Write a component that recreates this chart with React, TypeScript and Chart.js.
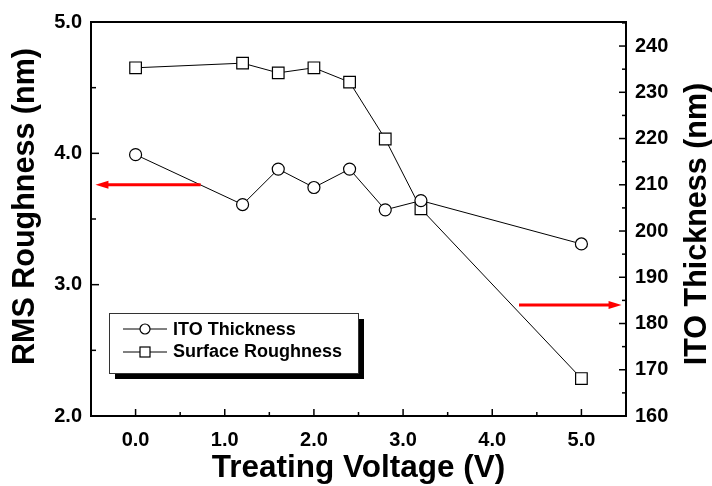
import { useEffect, useRef } from 'react';
import { Chart, registerables } from 'chart.js';

Chart.register(...registerables);

// ---- data ----
const voltage = [0, 1.2, 1.6, 2.0, 2.4, 2.8, 3.2, 5.0];
const itoThickness = [3.99, 3.61, 3.88, 3.74, 3.88, 3.57, 3.64, 3.31];
const surfaceRoughness = [235.3, 236.3, 234.2, 235.3, 232.2, 219.9, 204.8, 168.1];

const xTicks = [0, 1, 2, 3, 4, 5];
const xMinorTicks = [0.5, 1.5, 2.5, 3.5, 4.5];
const leftTicks = [2, 3, 4, 5];
const leftMinorTicks = [2.5, 3.5, 4.5];
const rightTicks = [160, 170, 180, 190, 200, 210, 220, 230, 240];
const rightMinorTicks = [165, 175, 185, 195, 205, 215, 225, 235, 245];

const seriesLabels = ['ITO Thickness', 'Surface Roughness'];
const xTitle = 'Treating Voltage (V)';
const leftTitle = 'RMS Roughness (nm)';
const rightTitle = 'ITO Thickness (nm)';

// red arrows in data units: [scale, value, from x, to x]
const arrowScales = ['y', 'y1'];
const arrowValues = [3.76, 184];
const arrowFrom = [0.73, 4.3];
const arrowTo = [-0.45, 5.45];

const FONT = '"Liberation Sans", Arial, Helvetica, sans-serif';

const decor = {
  id: 'decor',
  afterDraw(chart: any) {
    const { ctx, chartArea: ca, scales } = chart;
    const sx = scales.x, sy = scales.y, sy1 = scales.y1;
    ctx.save();
    // top frame
    ctx.strokeStyle = '#000';
    ctx.lineWidth = 2;
    ctx.beginPath();
    ctx.moveTo(ca.left - 1, ca.top);
    ctx.lineTo(ca.right + 1, ca.top);
    ctx.stroke();

    // inward ticks
    ctx.lineWidth = 1.5;
    const seg = (a: number, b: number, c: number, d: number) => {
      ctx.beginPath();
      ctx.moveTo(a, b);
      ctx.lineTo(c, d);
      ctx.stroke();
    };
    xTicks.forEach(v => { const p = sx.getPixelForValue(v); seg(p, ca.bottom, p, ca.bottom - 7); });
    xMinorTicks.forEach(v => { const p = sx.getPixelForValue(v); seg(p, ca.bottom, p, ca.bottom - 4); });
    leftTicks.forEach(v => { const p = sy.getPixelForValue(v); seg(ca.left, p, ca.left + 8, p); });
    leftMinorTicks.forEach(v => { const p = sy.getPixelForValue(v); seg(ca.left, p, ca.left + 5, p); });
    rightTicks.forEach(v => { const p = sy1.getPixelForValue(v); seg(ca.right, p, ca.right - 7, p); });
    rightMinorTicks.forEach(v => { const p = sy1.getPixelForValue(v); seg(ca.right, p, ca.right - 4, p); });

    // red arrows
    ctx.strokeStyle = '#ff0000';
    ctx.fillStyle = '#ff0000';
    arrowScales.forEach((sid, i) => {
      const s = scales[sid];
      const py = s.getPixelForValue(arrowValues[i]);
      const x0 = sx.getPixelForValue(arrowFrom[i]);
      const x1 = sx.getPixelForValue(arrowTo[i]);
      const dir = x1 > x0 ? 1 : -1;
      ctx.lineWidth = 3;
      ctx.beginPath();
      ctx.moveTo(x0, py);
      ctx.lineTo(x1 - dir * 10, py);
      ctx.stroke();
      ctx.beginPath();
      ctx.moveTo(x1, py);
      ctx.lineTo(x1 - dir * 13, py - 4);
      ctx.lineTo(x1 - dir * 13, py + 4);
      ctx.closePath();
      ctx.fill();
    });

    // legend box with shadow
    const lx = 109, ly = 313, lw = 249, lh = 60;
    ctx.fillStyle = '#000';
    ctx.fillRect(lx + 6, ly + 6, lw, lh);
    ctx.fillStyle = '#fff';
    ctx.fillRect(lx, ly, lw, lh);
    ctx.strokeStyle = '#333';
    ctx.lineWidth = 1;
    ctx.strokeRect(lx + 0.5, ly + 0.5, lw, lh);

    const rows = [329, 352];
    const baselines = [335, 357];
    rows.forEach((ry, i) => {
      ctx.strokeStyle = '#000';
      ctx.lineWidth = 1;
      seg(123, ry, 167, ry);
      ctx.fillStyle = '#fff';
      ctx.lineWidth = 1.2;
      if (i === 0) {
        ctx.beginPath();
        ctx.arc(145, ry, 5, 0, Math.PI * 2);
        ctx.fill();
        ctx.stroke();
      } else {
        ctx.fillRect(140, ry - 5, 10, 10);
        ctx.strokeRect(140, ry - 5, 10, 10);
      }
      ctx.fillStyle = '#000';
      ctx.font = `bold 18px ${FONT}`;
      ctx.textAlign = 'left';
      ctx.textBaseline = 'alphabetic';
      ctx.fillText(seriesLabels[i], 173, baselines[i]);
    });

    // rotated axis titles (both read bottom-to-top)
    ctx.font = `bold 30.5px ${FONT}`;
    ctx.fillStyle = '#000';
    ctx.textAlign = 'center';
    ctx.textBaseline = 'alphabetic';
    ctx.save();
    ctx.translate(34, 206.5);
    ctx.rotate(-Math.PI / 2);
    ctx.fillText(leftTitle, 0, 0);
    ctx.restore();
    ctx.save();
    ctx.translate(706, 224);
    ctx.rotate(-Math.PI / 2);
    ctx.fillText(rightTitle, 0, 0);
    ctx.restore();

    ctx.restore();
  },
};

export default function App() {
  const ref = useRef<HTMLCanvasElement | null>(null);
  useEffect(() => {
    if (!ref.current) return;
    const tickFont = { family: FONT, size: 20, weight: 'bold' as const };
    const chart = new Chart(ref.current, {
      type: 'scatter',
      data: {
        datasets: [
          {
            label: seriesLabels[0],
            data: voltage.map((v, i) => ({ x: v, y: itoThickness[i] })),
            yAxisID: 'y',
            showLine: true,
            borderColor: '#000',
            borderWidth: 1,
            pointStyle: 'circle',
            pointRadius: 6,
            pointBackgroundColor: '#fff',
            pointBorderColor: '#000',
            pointBorderWidth: 1.2,
          },
          {
            label: seriesLabels[1],
            data: voltage.map((v, i) => ({ x: v, y: surfaceRoughness[i] })),
            yAxisID: 'y1',
            showLine: true,
            borderColor: '#000',
            borderWidth: 1,
            pointStyle: 'rect',
            pointRadius: 8.2,
            pointBackgroundColor: '#fff',
            pointBorderColor: '#000',
            pointBorderWidth: 1.2,
          },
        ],
      },
      options: {
        responsive: false,
        animation: false,
        devicePixelRatio: 1,
        layout: { padding: { top: 22, left: 0, right: 0, bottom: 0 } },
        plugins: { legend: { display: false }, tooltip: { enabled: false } },
        scales: {
          x: {
            type: 'linear',
            position: 'bottom',
            min: -0.5,
            max: 5.5,
            afterBuildTicks: (s: any) => { s.ticks = xTicks.map(v => ({ value: v })); },
            afterFit: (s: any) => { s.height = 70; },
            grid: { drawOnChartArea: false, drawTicks: false },
            border: { display: true, color: '#000', width: 2 },
            ticks: {
              color: '#000',
              font: tickFont,
              padding: 12,
              maxRotation: 0,
              autoSkip: false,
              callback: (v: any) => Number(v).toFixed(1),
            },
            title: {
              display: true,
              text: xTitle,
              color: '#000',
              font: { family: FONT, size: 31.5, weight: 'bold', lineHeight: 1.13 },
              padding: 0,
            },
          },
          y: {
            type: 'linear',
            position: 'left',
            min: 2,
            max: 5,
            afterBuildTicks: (s: any) => { s.ticks = leftTicks.map(v => ({ value: v })); },
            afterFit: (s: any) => { s.width = 91; },
            grid: { drawOnChartArea: false, drawTicks: false },
            border: { display: true, color: '#000', width: 2 },
            ticks: {
              color: '#000',
              font: tickFont,
              padding: 9,
              callback: (v: any) => Number(v).toFixed(1),
            },
          },
          y1: {
            type: 'linear',
            position: 'right',
            min: 160,
            max: 245.2,
            afterBuildTicks: (s: any) => { s.ticks = rightTicks.map(v => ({ value: v })); },
            afterFit: (s: any) => { s.width = 86; },
            grid: { drawOnChartArea: false, drawTicks: false },
            border: { display: true, color: '#000', width: 2 },
            ticks: {
              color: '#000',
              font: tickFont,
              padding: 9,
              callback: (v: any) => String(v),
            },
          },
        },
      },
      plugins: [decor],
    });
    return () => chart.destroy();
  }, []);
  return (
    <div style={{ position: 'fixed', left: 0, top: 0, width: 712, height: 486, background: '#fff' }}>
      <canvas ref={ref} width={712} height={486} />
    </div>
  );
}
